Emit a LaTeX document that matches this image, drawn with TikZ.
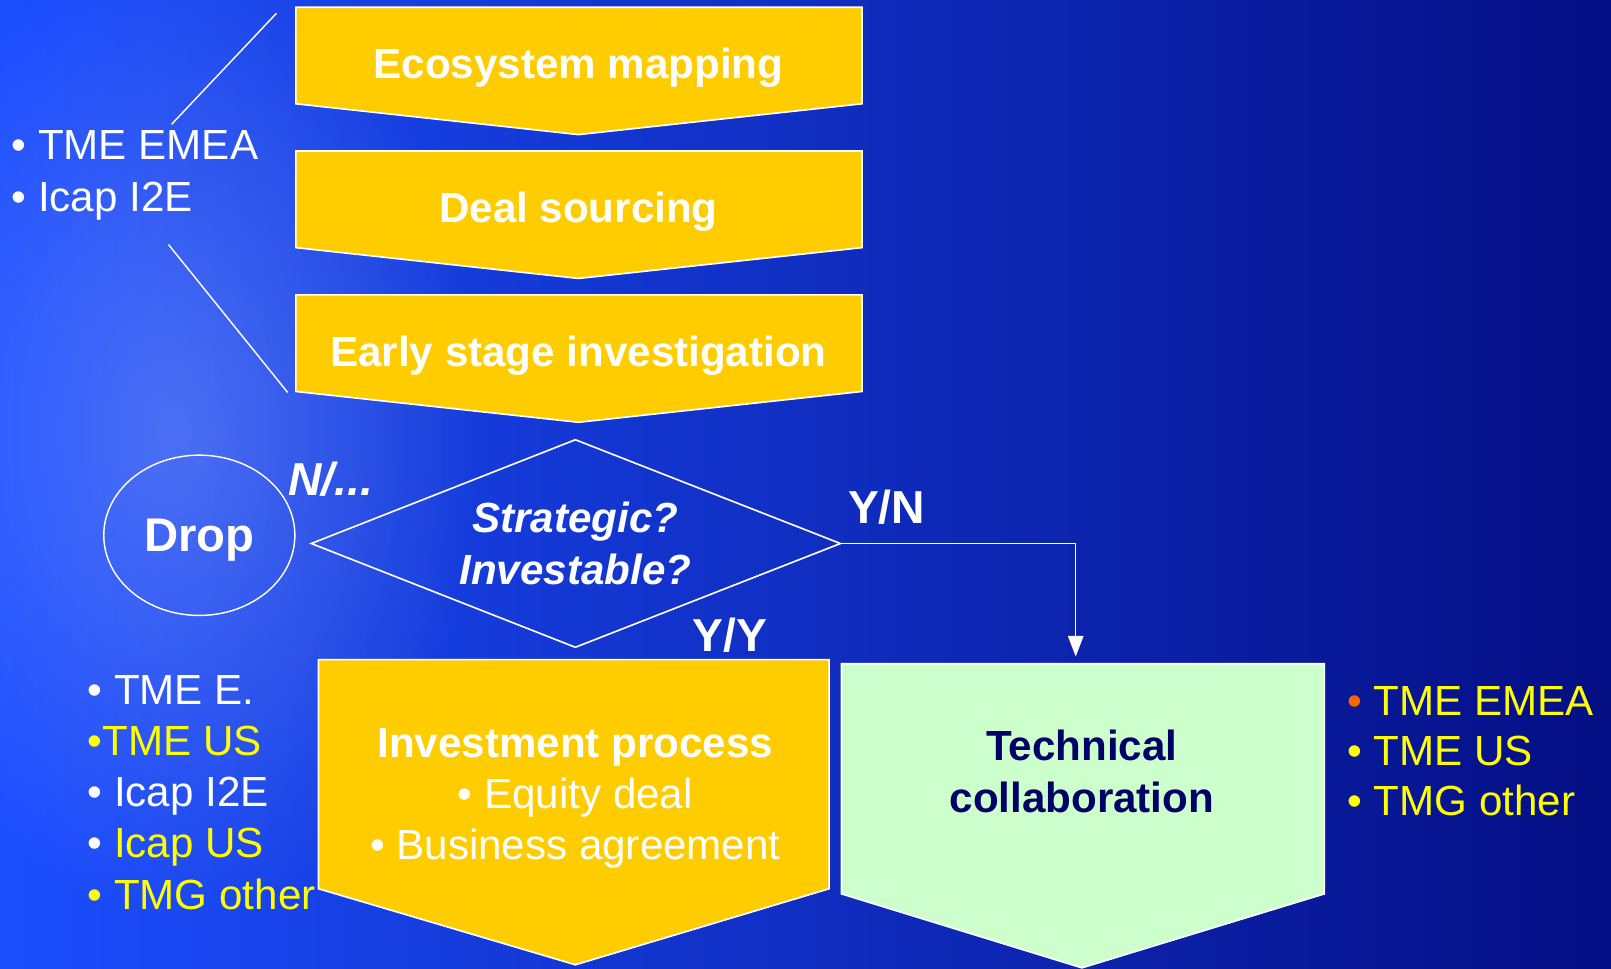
\documentclass[tikz,border=0pt]{standalone}
\usepackage{fontspec}
\setmainfont{Liberation Sans}
\usetikzlibrary{arrows.meta,fadings,shapes.geometric}
\tikzset {>=Stealth}
\tikzfading[name=glowfade,inner color=transparent!0,outer color=transparent!100]
\definecolor{stepyellow}{RGB}{255,204,0}
\definecolor{techgreen}{RGB}{204,255,204}
\definecolor{technavy}{RGB}{0,0,102}
\definecolor{listyellow}{RGB}{255,255,0}
\definecolor{dotorange}{RGB}{255,102,0}
\definecolor{bgleft}{RGB}{28,78,255}
\definecolor{bgmid}{RGB}{0,42,212}
\definecolor{bgright}{RGB}{4,14,132}
\tikzset{
  stepbox/.style={draw=white,line width=.8pt,fill=stepyellow},
  techbox/.style={draw=white,line width=.8pt,fill=techgreen},
  steptext/.style={text=white,font=\fontsize{20.5}{25}\selectfont\bfseries,align=center,inner sep=0pt},
  listitem/.style={text=white,font=\fontsize{20.5}{25}\selectfont,anchor=base west,inner sep=0pt},
  answer/.style={text=white,font=\fontsize{22.5}{27}\selectfont\bfseries,anchor=base west,inner sep=0pt}
}

\begin{document}
\begin{tikzpicture}[x=.5pt,y=-.5pt]
\useasboundingbox (0,0) rectangle (1568,943);
\shade[left color=bgleft,middle color=bgmid,right color=bgright] (0,0) rectangle (1568,943);
\fill[white,opacity=.22,path fading=glowfade] (170,420) ellipse (300 and 480);
\draw[stepbox] (288,7) -- (839,7) -- (839,101) -- (563,131) -- (288,101) -- cycle;
\node[steptext] (eco) at (563,66) {Ecosystem mapping};
\draw[stepbox] (288,147) -- (839,147) -- (839,241) -- (563,271) -- (288,241) -- cycle;
\node[steptext] (deal) at (563,206) {Deal sourcing};
\draw[stepbox] (288,287) -- (839,287) -- (839,381) -- (563,411) -- (288,381) -- cycle;
\node[steptext] (early) at (563,346) {Early stage investigation};
\node[listitem] (sa) at (11,155) {• TME EMEA};
\node[listitem] (sb) at (11,206) {• Icap I2E};
\coordinate (la) at (167,121);
\coordinate (lb) at (269,13);
\coordinate (lc) at (164,238);
\coordinate (ld) at (280,382);
\draw[white,line width=.7pt] (la) -- (lb);
\draw[white,line width=.7pt] (lc) -- (ld);
\coordinate (dtop) at (560,428);
\coordinate (dleft) at (303,529);
\coordinate (dright) at (818,529);
\coordinate (dbottom) at (560,630);
\draw[white,line width=.8pt] (dtop) -- (dright) -- (dbottom) -- (dleft) -- cycle;
\node[steptext,font=\fontsize{20.5}{25}\selectfont\bfseries\itshape] (ask) at (560,529) {Strategic?\\Investable?};
\node[draw=white,line width=.7pt,ellipse,minimum width=93pt,minimum height=78pt,inner sep=0pt,text depth=0pt,text=white,font=\fontsize{23}{27}\selectfont\bfseries] (drop) at (194,521) {Drop};
\node[answer,font=\fontsize{22.5}{27}\selectfont\bfseries\itshape] (no) at (280,482) {N/...};
\node[answer] (yn) at (825,510) {Y/N};
\node[answer] (yy) at (674,634) {Y/Y};
\coordinate (techtop) at (1047,639);
\draw[-{Triangle[length=10pt,width=7.5pt]},white,line width=.7pt] (dright) -| (techtop);
\draw[stepbox] (310,642) -- (807,642) -- (807,865) -- (560,939) -- (310,865) -- cycle;
\node[steptext] (invest) at (560,777) {Investment process\\\mdseries • Equity deal\\\mdseries • Business agreement};
\draw[techbox] (819,646) -- (1289,646) -- (1289,870) -- (1053,942) -- (819,870) -- cycle;
\node[steptext,text=technavy] (tech) at (1053,751) {Technical\\collaboration};
\node[listitem] (pa) at (85,686) {• TME E.};
\node[listitem,text=listyellow] (pb) at (85,735) {•TME US};
\node[listitem] (pc) at (85,785) {• Icap I2E};
\node[listitem] (pd) at (85,835) {• \textcolor{listyellow}{Icap US}};
\node[listitem,text=listyellow] (pe) at (85,885) {• TMG other};
\node[listitem,text=listyellow] (ta) at (1311,696) {\textcolor{dotorange}{•} TME EMEA};
\node[listitem,text=listyellow] (tb) at (1311,745) {• TME US};
\node[listitem,text=listyellow] (tc) at (1311,794) {• TMG other};
\end{tikzpicture}
\end{document}
